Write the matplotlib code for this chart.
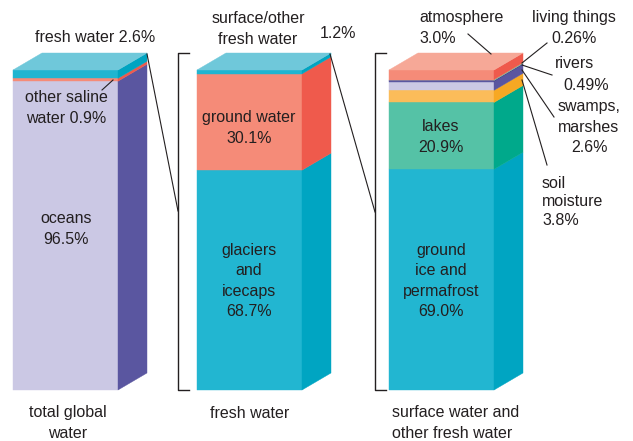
import matplotlib.pyplot as plt
from matplotlib.patches import Polygon

# distribution of the earth's water, in percent
total_parts = ["oceans", "other saline water", "fresh water"]
total_pct = [96.5, 0.9, 2.6]

fresh_parts = ["glaciers and icecaps", "ground water", "surface/other fresh water"]
fresh_pct = [68.7, 30.1, 1.2]

surface_parts = ["ground ice and permafrost", "lakes", "soil moisture",
                 "swamps, marshes", "rivers", "living things", "atmosphere"]
surface_pct = [69.0, 20.9, 3.8, 2.6, 0.49, 0.26, 3.0]

# (front, side) colours for each segment, bottom to top
total_cols = [("#cbc8e4", "#5a56a0"), ("#f58b78", "#ef5a4c"), ("#20b5d0", "#00a4c1")]
fresh_cols = [("#22b6d1", "#00a5c2"), ("#f58b78", "#ef5a4c"), ("#20b5d0", "#00a4c1")]
surface_cols = [("#22b6d1", "#00a5c2"), ("#55c2a6", "#00a98b"), ("#fbbc5a", "#f7a823"),
                ("#cbc8e4", "#5a56a0"), ("#5a56a0", "#4a4690"), ("#a7dbb4", "#8acb9b"),
                ("#f58b78", "#ef5a4c")]
top_cols = ["#6fc8da", "#6fc8da", "#f6a897"]

BASE, HEIGHT = 390, 320
W, DX, DY = 105, 29, 17
INK = "#231f20"

plt.rcParams["font.family"] = ["Liberation Sans", "DejaVu Sans"]
FS = 11.5
LS = 1.42

fig = plt.figure(figsize=(6.33, 4.41), dpi=100)
ax = fig.add_axes([0, 0, 1, 1])
ax.set_xlim(0, 633)
ax.set_ylim(441, 0)
ax.axis("off")


def draw_bar(x0, values, colors, top_col):
    total = sum(values)
    y = BASE
    x1 = x0 + W
    for v, (front, side) in zip(values, colors):
        h = HEIGHT * v / total
        ya, yb = y, y - h
        ax.add_patch(Polygon([(x0, ya), (x1, ya), (x1, yb), (x0, yb)],
                             closed=True, fc=front, ec=front, lw=0.3))
        ax.add_patch(Polygon([(x1, ya), (x1 + DX, ya - DY), (x1 + DX, yb - DY), (x1, yb)],
                             closed=True, fc=side, ec=side, lw=0.3))
        y = yb
    ax.add_patch(Polygon([(x0, y), (x1, y), (x1 + DX, y - DY), (x0 + DX, y - DY)],
                         closed=True, fc=top_col, ec=top_col, lw=0.3))


draw_bar(13, total_pct, total_cols, top_cols[0])
draw_bar(197, fresh_pct, fresh_cols, top_cols[1])
draw_bar(389, surface_pct, surface_cols, top_cols[2])

# brackets and the lines that expand one bar into the next
for bx in (178, 375):
    ax.plot([bx + 11, bx, bx, bx + 11], [53, 53, 390, 390], color=INK, lw=1)
ax.plot([147, 178], [54, 211], color=INK, lw=0.8)
ax.plot([330, 375], [54, 212], color=INK, lw=0.8)

# text inside the bars
kw = dict(fontsize=FS, color=INK, ha="center", va="center", linespacing=LS)
left = dict(fontsize=FS, color=INK, ha="left", va="center", linespacing=LS)
ax.text(66, 108, "other saline\nwater 0.9%", **kw)
ax.plot([102, 113], [90, 80], color=INK, lw=0.8)
ax.text(66, 229, "oceans\n96.5%", **kw)
ax.text(249, 128, "ground water\n30.1%", **kw)
ax.text(249, 281, "glaciers\nand\nicecaps\n68.7%", **kw)
ax.text(441, 137, "lakes\n20.9%", **kw)
ax.text(441, 281, "ground\nice and\npermafrost\n69.0%", **kw)

# labels above and beside the bars
ax.text(95, 38, "fresh water 2.6%", **kw)
ax.text(258, 29, "surface/other\nfresh water", **kw)
ax.text(338, 34, "1.2%", **kw)
ax.text(419, 28, "atmosphere\n3.0%", **left)
ax.plot([468, 491], [34, 54], color=INK, lw=0.8)
ax.text(574, 28, "living things\n0.26%", **kw)
ax.plot([547, 522], [43, 63], color=INK, lw=0.8)
ax.text(555, 64, "rivers", **left)
ax.text(563, 85, "0.49%", **left)
ax.plot([552, 522], [75, 65], color=INK, lw=0.8)
ax.text(589, 127, "swamps,\nmarshes\n2.6%", **kw)
ax.plot([554, 522], [117, 70], color=INK, lw=0.8)
ax.text(542, 202, "soil\nmoisture\n3.8%", fontsize=FS, color=INK, ha="left", va="center",
        linespacing=1.3)
ax.plot([547, 522], [165, 80], color=INK, lw=0.8)

# captions under the bars
ax.text(68, 423, "total global\nwater", **kw)
ax.text(250, 413, "fresh water", **kw)
ax.text(392, 423, "surface water and\nother fresh water", **left)

fig.savefig("out.png", dpi=100)
